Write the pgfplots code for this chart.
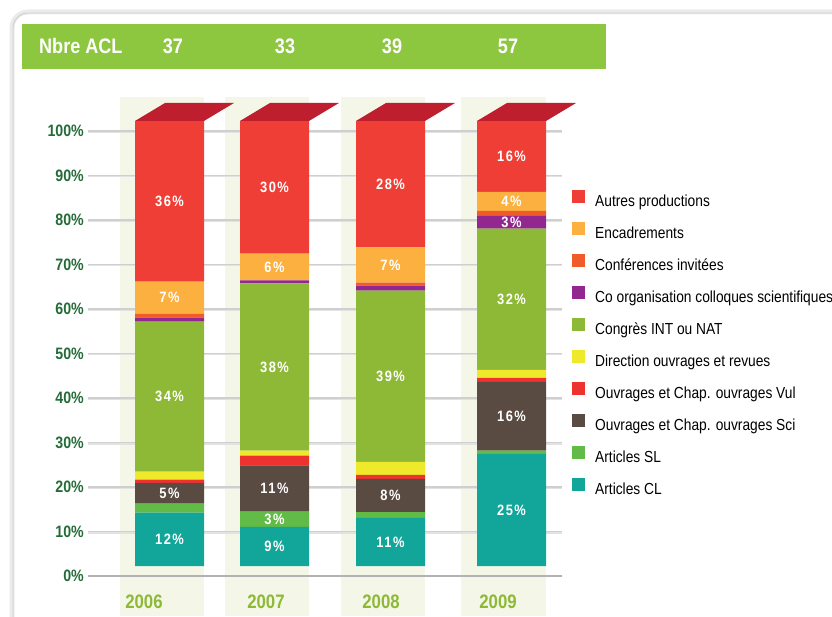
\documentclass[border=0pt]{standalone}
\usepackage{fontspec}
\setmainfont{Liberation Sans}
\newfontfamily\nar{Liberation Sans}[FakeStretch=0.86]
\newfontfamily\lbl{Liberation Sans}[FakeStretch=0.86, LetterSpace=10]
\usepackage{pgfplots}
\pgfplotsset{compat=1.18}
\definecolor{cAutres}{HTML}{EF3E36}
\definecolor{cEnc}{HTML}{FBB040}
\definecolor{cConf}{HTML}{F15A29}
\definecolor{cCoorg}{HTML}{92278F}
\definecolor{cCong}{HTML}{8DB937}
\definecolor{cDir}{HTML}{EEE92A}
\definecolor{cVul}{HTML}{EE322D}
\definecolor{cSci}{HTML}{594A42}
\definecolor{cSL}{HTML}{62BB46}
\definecolor{cCL}{HTML}{12A59A}
\definecolor{capc}{HTML}{BE1E2D}
\definecolor{bgcol}{HTML}{F4F7E8}
\definecolor{hdr}{HTML}{8DC63F}
\definecolor{tickc}{HTML}{236B37}
\definecolor{yearc}{HTML}{8DB937}
\definecolor{gridc}{HTML}{CFCFCF}
\begin{document}
\begin{tikzpicture}[x=1pt,y=1pt]
\path[use as bounding box] (0,0) rectangle (832,616);
% panel
\draw[black!8, line width=5pt, rounded corners=16pt] (12,-20) -- (12,604) -- (860,604);
\draw[black!20, line width=0.8pt, rounded corners=15pt] (13,-20) -- (13,603) -- (860,603);
% header
\fill[hdr] (22,547) rectangle (606,592);
\node[text=white, anchor=west, inner sep=0pt, font=\nar\bfseries\fontsize{21}{24}\selectfont] at (39,570) {Nbre ACL};
\foreach \xx/\nn in {173/37, 285/33, 392/39, 508/57}
  \node[text=white, inner sep=0pt, font=\nar\bfseries\fontsize{21}{24}\selectfont] at (\xx,570) {\nn};
% background columns
\fill[bgcol] (120,0) rectangle (204,519);
\fill[bgcol] (225,0) rectangle (309,519);
\fill[bgcol] (341,0) rectangle (425,519);
\fill[bgcol] (461,0) rectangle (546,519);
% grid
\foreach \k in {1,...,10}{
  \draw[gridc!60, line width=2.2pt] (88,40+44.5*\k-0.9) -- (562,40+44.5*\k-0.9);
  \draw[gridc, line width=1.1pt] (88,40+44.5*\k) -- (562,40+44.5*\k);
}
\draw[black!30, line width=1.3pt] (88,40) -- (562,40);
\begin{axis}[at={(0,0)}, anchor=south west, scale only axis,
  width=832pt, height=616pt, xmin=0, xmax=832, ymin=-8.989, ymax=129.438,
  clip=false, axis line style={draw=none}, xtick=\empty,
  ytick={0,10,...,100}, major tick length=0pt,
  yticklabel={\pgfmathprintnumber{\tick}\%},
  /pgf/number format/assume math mode=true,
  yticklabel style={anchor=east, xshift=84pt, inner sep=0pt, text=tickc,
    font=\nar\bfseries\fontsize{16.5}{18}\selectfont},
  ybar stacked, bar width=69,
  reverse legend,
  legend image code/.code={\fill[#1, yshift=-10pt] (0pt,-0.5pt) rectangle (13pt,12.5pt);},
  legend style={at={(axis cs:572,86.8)}, anchor=north west, draw=none, fill=none,
    inner sep=0pt, row sep=12pt, column sep=10pt,
    font=\nar\fontsize{16}{18}\selectfont,
    nodes={inner sep=0pt, text height=12pt, text depth=3pt}},
  legend cell align=left,
]
\addplot[fill=cCL, draw=none, yshift=10pt] coordinates {(169.5,12) (274.5,8.8) (390.5,10.8) (511.5,25.2)};
\addlegendentry{Articles CL}
\addplot[fill=cSL, draw=none, yshift=10pt] coordinates {(169.5,2) (274.5,3.4) (390.5,1.3) (511.5,0.7)};
\addlegendentry{Articles SL}
\addplot[fill=cSci, draw=none, yshift=10pt] coordinates {(169.5,4.7) (274.5,10.4) (390.5,7.5) (511.5,15.5)};
\addlegendentry{Ouvrages et Chap. ouvrages Sci}
\addplot[fill=cVul, draw=none, yshift=10pt] coordinates {(169.5,0.7) (274.5,2.2) (390.5,0.9) (511.5,0.9)};
\addlegendentry{Ouvrages et Chap. ouvrages Vul}
\addplot[fill=cDir, draw=none, yshift=10pt] coordinates {(169.5,1.8) (274.5,1.1) (390.5,2.9) (511.5,1.8)};
\addlegendentry{Direction ouvrages et revues}
\addplot[fill=cCong, draw=none, yshift=10pt] coordinates {(169.5,33.7) (274.5,37.6) (390.5,38.5) (511.5,31.7)};
\addlegendentry{Congrès INT ou NAT}
\addplot[fill=cCoorg, draw=none, yshift=10pt] coordinates {(169.5,0.9) (274.5,0.7) (390.5,1.1) (511.5,2.9)};
\addlegendentry{Co organisation colloques scientifiques}
\addplot[fill=cConf, draw=none, yshift=10pt] coordinates {(169.5,0.9) (274.5,0) (390.5,0.7) (511.5,1.1)};
\addlegendentry{Conférences invitées}
\addplot[fill=cEnc, draw=none, yshift=10pt] coordinates {(169.5,7.2) (274.5,6.0) (390.5,7.9) (511.5,4.3)};
\addlegendentry{Encadrements}
\addplot[fill=cAutres, draw=none, yshift=10pt] coordinates {(169.5,36.1) (274.5,29.8) (390.5,28.4) (511.5,15.9)};
\addlegendentry{Autres productions}
\end{axis}
% caps (3D top of each bar)
\foreach \L in {135,240,356,477}{
  \fill[capc] (\L,495) -- (\L+69,495) -- (\L+99,513) -- (\L+30,513) -- cycle;
}
% bar labels (y = 40 + 4.45*v)
\tikzset{bl/.style={text=white, inner sep=0pt, font=\lbl\bfseries\fontsize{15}{17}\selectfont}}
\foreach \xx/\vv/\tt in {169.5/8.25/12, 169.5/18.6/5, 169.5/40.3/34, 169.5/62.55/7, 169.5/84.2/36,
  274.5/6.65/9, 274.5/12.75/3, 274.5/19.65/11, 274.5/46.95/38, 274.5/69.45/6, 274.5/87.35/30,
  390.5/7.65/11, 390.5/18.1/8, 390.5/44.9/39, 390.5/69.9/7, 390.5/88.05/28,
  511.5/14.85/25, 511.5/35.9/16, 511.5/62.2/32, 511.5/79.5/3, 511.5/84.2/4, 511.5/94.3/16}
  \node[bl] at (\xx,40+4.45*\vv) {\tt\%};
% year labels
\foreach \xx/\yy in {144/2006, 266/2007, 381/2008, 498/2009}
  \node[text=yearc, inner sep=0pt, font=\nar\bfseries\fontsize{19.5}{22}\selectfont] at (\xx,14) {\yy};
\end{tikzpicture}
\end{document}
